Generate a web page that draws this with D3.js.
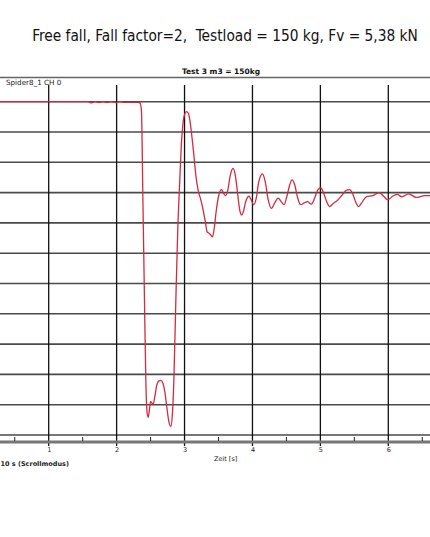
<!DOCTYPE html>
<html><head><meta charset="utf-8">
<script src="https://cdn.jsdelivr.net/npm/d3@7"></script>
<style>body{margin:0;background:#fff;overflow:hidden}svg{display:block}</style>
</head><body>
<script>
const title = "Free fall, Fall factor=2,  Testload = 150 kg, Fv = 5,38 kN";
const chartTitle = "Test 3 m3 = 150kg";
const channel = "Spider8_1 CH 0";
const xLabel = "Zeit [s]";
const modeLabel = "10 s (Scrollmodus)";
const xTicks = [1,2,3,4,5,6];
const xMinorTicks = [0.5,1.5,2.5,3.5,4.5,5.5,6.5];
const yGrid = [0,0.5,1,1.5,2,2.5,3,3.5,4,4.5,5,5.5];
// time [s]
const time = [0.25,1.58,1.62,1.68,1.74,1.80,1.857,1.916,1.99,2.048,2.12,2.196,2.313,2.342,2.365,2.387,2.41,2.43,2.445,2.465,2.482,2.5,2.52,2.538,2.563,2.593,2.62,2.651,2.68,2.71,2.74,2.769,2.799,2.82,2.843,2.872,2.9,2.93,2.953,2.975,3.004,3.029,3.056,3.078,3.103,3.137,3.166,3.2,3.24,3.274,3.306,3.333,3.362,3.387,3.412,3.438,3.468,3.505,3.544,3.574,3.603,3.637,3.674,3.715,3.747,3.784,3.813,3.838,3.865,3.9,3.95,3.982,4.019,4.056,4.093,4.147,4.188,4.232,4.279,4.328,4.377,4.424,4.465,4.512,4.549,4.583,4.622,4.666,4.71,4.762,4.809,4.868,4.916,4.96,5.004,5.049,5.093,5.135,5.196,5.259,5.313,5.372,5.431,5.475,5.519,5.563,5.607,5.676,5.774,5.862,5.931,5.994,6.063,6.132,6.2,6.299,6.412,6.534,6.637];
// force [kN] (plotted downward)
const force = [0,0,0.02,0,0.015,0,0.015,0,0.014,0,0.01,0.01,0.01,0.02,0.14,1.62,3.27,4.59,5.09,5.21,5.09,4.95,4.97,5.0,4.86,4.67,4.61,4.60,4.64,4.79,5.05,5.28,5.36,5.17,4.59,3.27,2.12,1.29,0.71,0.38,0.20,0.165,0.19,0.30,0.52,0.88,1.21,1.46,1.62,1.79,1.98,2.15,2.17,2.2,2.23,2.08,1.79,1.54,1.45,1.51,1.55,1.46,1.21,1.10,1.21,1.54,1.79,1.87,1.82,1.65,1.56,1.62,1.70,1.59,1.32,1.19,1.32,1.62,1.76,1.67,1.59,1.65,1.70,1.54,1.37,1.29,1.37,1.59,1.70,1.67,1.65,1.69,1.59,1.46,1.42,1.51,1.65,1.73,1.67,1.62,1.55,1.47,1.45,1.52,1.65,1.73,1.67,1.57,1.55,1.50,1.56,1.62,1.56,1.53,1.57,1.52,1.58,1.55,1.55];

const W = 430, H = 537;
const svg = d3.select("body").append("svg").attr("width", W).attr("height", H);
const x = d3.scaleLinear().domain([1, 6]).range([48.7, 388.3]);
const y = d3.scaleLinear().domain([0, 5.5]).range([101.7, 435]);
const axisY = 442;

const tt = svg.append("text").attr("x", 225).attr("y", 41).attr("text-anchor", "middle")
  .attr("font-family", "'Liberation Sans Narrow','DejaVu Sans Condensed',sans-serif")
  .attr("font-size", 20).attr("fill", "#111")
  .style("white-space", "pre").text(title);
const tw = tt.node().getComputedTextLength();
if (tw > 0) tt.attr("font-size", 20 * 386 / tw);

svg.append("text").attr("x", 221).attr("y", 74).attr("text-anchor", "middle")
  .attr("font-family", "'DejaVu Sans',sans-serif").attr("font-weight", "bold")
  .attr("font-size", 7.5).attr("fill", "#111").text(chartTitle);

svg.append("line").attr("x1", 0).attr("x2", W).attr("y1", 77.5).attr("y2", 77.5)
  .attr("stroke", "#666").attr("stroke-width", 1.6);

svg.append("text").attr("x", 6).attr("y", 84.5)
  .attr("font-family", "'DejaVu Sans',sans-serif")
  .attr("font-size", 7.2).attr("fill", "#222").text(channel);

// horizontal grid
svg.append("g").selectAll("line").data(yGrid).join("line")
  .attr("x1", 0).attr("x2", W).attr("y1", d => y(d)).attr("y2", d => y(d))
  .attr("stroke", "#4a4a4a").attr("stroke-width", 1.6);

// vertical grid
svg.append("g").selectAll("line").data(xTicks).join("line")
  .attr("x1", d => x(d)).attr("x2", d => x(d)).attr("y1", 85).attr("y2", axisY + 4)
  .attr("stroke", "#111").attr("stroke-width", 1.3);

// x axis
const xAxis = d3.axisBottom(x).tickValues(xTicks).tickSize(0).tickPadding(5).tickFormat(d3.format("d"));
const ax = svg.append("g").attr("transform", `translate(0,${axisY})`).call(xAxis);
ax.select(".domain").remove();
ax.selectAll("text").attr("font-family", "'DejaVu Sans',sans-serif").attr("font-size", 6.5).attr("fill", "#222");
svg.append("rect").attr("x", 0).attr("y", axisY - 1.5).attr("width", W).attr("height", 3).attr("fill", "#777");
svg.append("g").selectAll("line").data(xMinorTicks).join("line")
  .attr("x1", d => x(d)).attr("x2", d => x(d)).attr("y1", axisY - 5).attr("y2", axisY - 1)
  .attr("stroke", "#222").attr("stroke-width", 1);

svg.append("text").attr("x", 214).attr("y", 461)
  .attr("font-family", "'DejaVu Sans',sans-serif").attr("font-size", 6.5).attr("fill", "#222").text(xLabel);
svg.append("text").attr("x", 0.5).attr("y", 466)
  .attr("font-family", "'DejaVu Sans',sans-serif").attr("font-weight", "bold")
  .attr("font-size", 6.5).attr("fill", "#222").text(modeLabel);

// trace
const data = time.map((t, i) => [t, force[i]]);
const line = d3.line().x(d => x(d[0])).y(d => y(d[1])).curve(d3.curveMonotoneX);
svg.append("path").datum(data).attr("d", line)
  .attr("fill", "none").attr("stroke", "#d42a3e").attr("stroke-width", 1.3);
</script>
</body></html>
